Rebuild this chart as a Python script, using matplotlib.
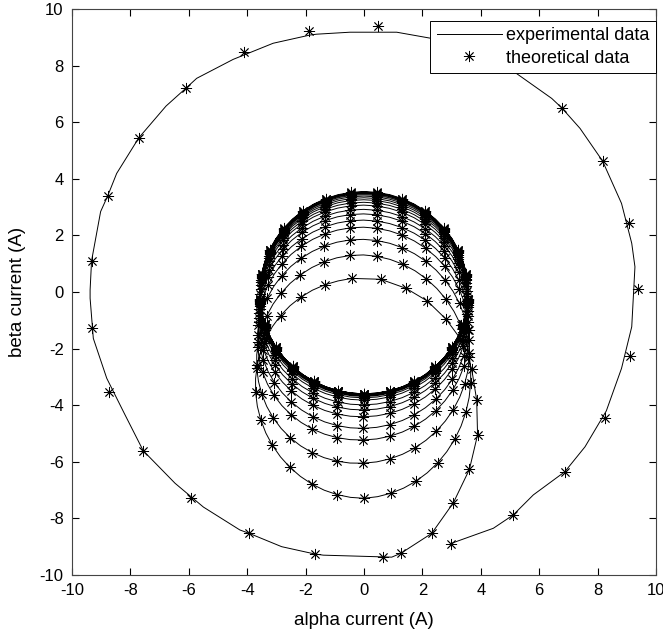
import numpy as np
import matplotlib.pyplot as plt

plt.rcParams['font.family'] = ['Liberation Sans', 'DejaVu Sans']
plt.rcParams['axes.unicode_minus'] = False

# outer ring, experimental trace (counter-clockwise from the start point)
outer_line_x = [2.97, 4.43, 5.11, 5.80, 6.88, 7.57, 8.30, 8.82, 9.17, 9.28, 9.17, 8.82,
                8.17, 7.40, 6.77, 6.43, 5.06, 4.10, 3.20, 2.32, 1.35, 1.12, -0.48, -1.62,
                -1.85, -3.11, -4.48, -5.73, -6.10, -6.78, -7.71, -8.47, -8.78, -9.02,
                -9.33, -9.38, -9.38, -9.27, -8.81, -8.18, -7.56, -6.47, -5.50, -4.25,
                -3.93, -2.82, -1.68, -1.39, 0.95]
outer_line_y = [-8.89, -8.35, -7.88, -7.17, -6.35, -5.47, -4.20, -2.70, -1.23, 0.89, 1.72, 3.13,
                4.63, 5.78, 6.51, 6.84, 7.84, 8.35, 8.72, 8.96, 9.14, 9.18, 9.18, 9.11,
                9.08, 8.79, 8.22, 7.55, 7.20, 6.57, 5.45, 4.19, 3.39, 2.84,
                1.10, 0.07, -0.22, -1.64, -3.05, -4.35, -5.61, -6.76, -7.60, -8.41,
                -8.53, -9.00, -9.26, -9.30, -9.37]

# outer ring, theoretical samples
outer_pts_x = [2.97, 5.11, 6.88, 8.26, 9.12, 9.37, 9.08, 8.17, 6.77, 4.94, 2.81, 0.49,
               -1.87, -4.11, -6.10, -7.71, -8.78, -9.33, -9.33, -8.72, -7.56, -5.94,
               -3.93, -1.68, 0.66]
outer_pts_y = [-8.89, -7.88, -6.35, -4.44, -2.25, 0.10, 2.43, 4.63, 6.51, 8.05, 8.97, 9.40,
               9.22, 8.49, 7.20, 5.45, 3.39, 1.10, -1.26, -3.54, -5.61, -7.29,
               -8.53, -9.26, -9.37]

# first swing into the small circle
trans_x = [1.27, 2.32, 3.06, 3.61, 3.89, 3.86, 3.69, 3.35, 2.81, 2.17, 1.44, 0.57, -0.42]
trans_y = [-9.23, -8.53, -7.45, -6.27, -5.05, -3.82, -2.73, -1.72, -0.96, -0.32, 0.13, 0.45, 0.48]

# extremes of each later loop
loop_top = [0.48, 1.31, 1.86, 2.29, 2.54, 2.76, 2.92, 3.07, 3.17, 3.26, 3.33, 3.39,
            3.44, 3.48, 3.51, 3.53, 3.55]
loop_bottom = [-7.29, -6.05, -5.23, -4.82, -4.41, -4.17, -3.99, -3.82, -3.74, -3.69,
               -3.66, -3.63, -3.62, -3.61, -3.60, -3.60, -3.60]
loop_right = [3.88, 3.66, 3.62, 3.60, 3.59, 3.58, 3.58, 3.57, 3.57, 3.57, 3.57, 3.57,
              3.57, 3.57, 3.57, 3.57, 3.57]
loop_left = [-3.72, -3.68, -3.65, -3.63, -3.62, -3.61, -3.60, -3.59, -3.58, -3.58, -3.57,
             -3.57, -3.57, -3.57, -3.57, -3.57, -3.57]

step = 14.4  # degrees between samples (25 per turn)
m = np.arange(len(loop_top))


def inner(n):
    th = np.deg2rad(270 + step * n)
    up = np.interp(n, 12.5 + 25 * m, loop_top)
    lo = np.interp(n, 25 + 25 * m, loop_bottom)
    ri = np.interp(n, 6.25 + 25 * m, loop_right)
    le = np.interp(n, 18.75 + 25 * m, loop_left)
    x = (ri + le) / 2 + (ri - le) / 2 * np.cos(th)
    y = (up + lo) / 2 + (up - lo) / 2 * np.sin(th)
    return x, y


n_end = 25 * len(loop_top)
n_pts = np.arange(14, n_end + 1)
n_line = np.arange(13.5, n_end + 0.25, 0.5)
ix, iy = inner(n_pts)
lx, ly = inner(n_line)

exp_x = np.concatenate([outer_line_x, trans_x, lx])
exp_y = np.concatenate([outer_line_y, trans_y, ly])
th_x = np.concatenate([outer_pts_x, trans_x, ix])
th_y = np.concatenate([outer_pts_y, trans_y, iy])

fig = plt.figure(figsize=(6.63, 6.34), dpi=100)
ax = fig.add_axes([0.1086, 0.0931, 0.8808, 0.8927])

ax.plot(exp_x, exp_y, color='black', linewidth=0.7, label='experimental data')
# MATLAB-style asterisk: 8 spokes
ax.plot(th_x, th_y, linestyle='none', marker=(8, 2, 0), color='black', markersize=8,
        markeredgewidth=0.6, label='theoretical data')

ax.set_xlim(-10, 10)
ax.set_ylim(-10, 10)
ax.set_xticks(np.arange(-10, 11, 2))
ax.set_yticks(np.arange(-10, 11, 2))
ax.tick_params(direction='in', length=5, width=0.8, top=True, right=True,
               labelsize=12, pad=6)
for s in ax.spines.values():
    s.set_linewidth(0.8)
    s.set_color('#444444')

ax.set_xlabel('alpha current (A)', fontsize=13.5, labelpad=10)
ax.set_ylabel('beta current (A)', fontsize=13.5, labelpad=10)

leg = ax.legend(loc='upper right', bbox_to_anchor=(1.0, 0.979), borderaxespad=0,
                fontsize=13, handlelength=3.6, fancybox=False, framealpha=1,
                edgecolor='black', borderpad=0.35, labelspacing=0.3, handletextpad=0.25)
leg.get_frame().set_linewidth(0.7)

fig.savefig('out.png', dpi=100)
